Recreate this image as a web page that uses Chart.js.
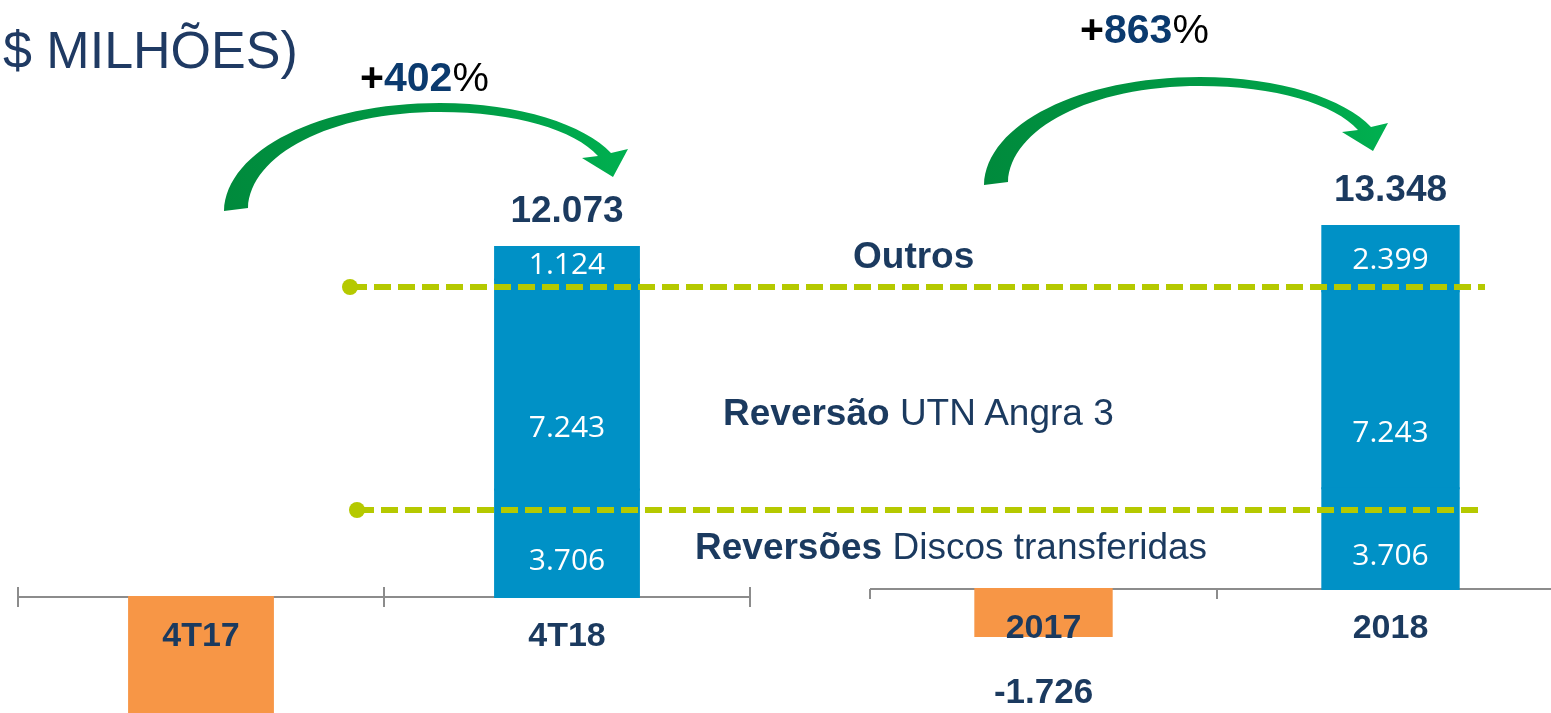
<!DOCTYPE html>
<html>
<head>
<meta charset="utf-8">
<script src="https://cdn.jsdelivr.net/npm/chart.js@4.4.1/dist/chart.umd.min.js"></script>
<style>
  body { margin: 0; background: #fff; }
  #slide { position: relative; width: 1551px; height: 713px; overflow: hidden; font-family: 'Liberation Sans', Arial, sans-serif; }
  #slide canvas { position: absolute; top: 0; }
  .txt { position: absolute; white-space: nowrap; line-height: 1; color: #1B3A5F; }
  .txt b { font-weight: bold; }
</style>
</head>
<body>
<div id="slide">
  <canvas id="leftChart" width="800" height="713" style="left:0;width:800px;height:713px"></canvas>
  <canvas id="rightChart" width="780" height="713" style="left:800px;width:780px;height:713px"></canvas>

  <div class="txt" style="left:3px;top:24px;font-size:52px;color:#1F3A63">$ MILHÕES)</div>

  <div class="txt" style="left:853px;top:237px;font-size:37px"><b>Outros</b></div>
  <div class="txt" style="left:723px;top:394px;font-size:37px"><b>Reversão</b> UTN Angra 3</div>
  <div class="txt" style="left:695px;top:528px;font-size:37px"><b>Reversões</b> Discos transferidas</div>
</div>

<script>
// trimestre: 4T17 x 4T18 (valor de 4T17 estimado, fica fora da imagem)
const leftCategories = ['4T17', '4T18'];
const leftResultado = [-3998, null];
const leftDiscos = [null, 3706];
const leftAngra = [null, 7243];
const leftOutros = [null, 1124];

// ano: 2017 x 2018
const rightCategories = ['2017', '2018'];
const rightResultado = [-1726, null];
const rightDiscos = [null, 3706];
const rightAngra = [null, 7243];
const rightOutros = [null, 2399];

const growthLabels = ['402', '863'];

const colors = {
  BLUE: '#0091C6',
  ORANGE: '#F79646',
  NAVY: '#1B3A5F',
  DEEP: '#0B3A6E',
  AXIS: '#8C8C8C',
  LIME: '#B5C900'
};

// separadores tracejados (coordenadas da página)
const guides = [
  { y: 287, x0: 350, x1: 1485 },
  { y: 510, x0: 357, x1: 1483 }
];

// deslocamento vertical dos rótulos internos, por dataset
const labelShift = [0, 18, 44, 2];

function fmt(v) {
  const s = String(Math.abs(Math.round(v))).replace(/\B(?=(\d{3})+(?!\d))/g, '.');
  return (v < 0 ? '-' : '') + s;
}

function drawArrow(ctx, tx, ty) {
  const p = (x, y) => [tx + x, ty + y];
  ctx.save();
  const g = ctx.createLinearGradient(tx - 12, ty, tx + 391, ty - 59);
  g.addColorStop(0, '#008A3C');
  g.addColorStop(0.6, '#009A45');
  g.addColorStop(1, '#00B050');
  ctx.fillStyle = g;
  ctx.beginPath();
  ctx.moveTo(...p(-12, 2));
  ctx.bezierCurveTo(...p(-10, -59), ...p(84, -106), ...p(204, -106));
  ctx.bezierCurveTo(...p(284, -106), ...p(349, -84), ...p(375, -56));
  ctx.lineTo(...p(392, -60));
  ctx.lineTo(...p(377, -32));
  ctx.lineTo(...p(346, -51));
  ctx.lineTo(...p(362, -53));
  ctx.bezierCurveTo(...p(339, -79), ...p(279, -97), ...p(204, -97));
  ctx.bezierCurveTo(...p(94, -97), ...p(14, -54), ...p(12, -1));
  ctx.closePath();
  ctx.fill();
  ctx.restore();
}

function makeSlidePlugin(s) {
  return {
    id: 'slide',
    beforeDatasetsDraw(chart) {
      const { ctx, chartArea } = chart;
      const xs = chart.scales.x;
      const y0 = chart.scales.y.getPixelForValue(0);
      const half = (xs.getPixelForValue(1) - xs.getPixelForValue(0)) / 2;
      ctx.save();
      ctx.strokeStyle = colors.AXIS;
      ctx.lineWidth = 2;
      ctx.beginPath();
      ctx.moveTo(chartArea.left, y0);
      ctx.lineTo(chartArea.right, y0);
      for (let i = 0; i <= chart.data.labels.length; i++) {
        const tx = xs.getPixelForValue(0) - half + i * 2 * half;
        ctx.moveTo(tx, y0 - s.tickUp);
        ctx.lineTo(tx, y0 + 10);
      }
      ctx.stroke();
      ctx.restore();
    },
    afterDatasetsDraw(chart) {
      const { ctx } = chart;
      const xs = chart.scales.x, ys = chart.scales.y;
      const y0 = ys.getPixelForValue(0);
      const sets = chart.data.datasets;
      ctx.save();

      // linhas tracejadas
      guides.forEach(g => {
        const from = Math.max(g.x0 - s.offsetX, 0);
        const to = Math.min(g.x1 - s.offsetX, chart.width);
        if (to <= from) return;
        ctx.setLineDash([17, 7]);
        ctx.lineDashOffset = from + s.offsetX - g.x0;
        ctx.strokeStyle = colors.LIME;
        ctx.lineWidth = 6;
        ctx.beginPath();
        ctx.moveTo(from, g.y);
        ctx.lineTo(to, g.y);
        ctx.stroke();
        ctx.setLineDash([]);
        const dx = g.x0 - s.offsetX;
        if (dx >= 0 && dx <= chart.width) {
          ctx.fillStyle = colors.LIME;
          ctx.beginPath();
          ctx.arc(dx, g.y, 8, 0, Math.PI * 2);
          ctx.fill();
        }
      });

      ctx.textAlign = 'center';
      ctx.textBaseline = 'middle';

      // rótulos dentro das barras
      for (let d = 1; d < sets.length; d++) {
        chart.getDatasetMeta(d).data.forEach((bar, j) => {
          const v = sets[d].data[j];
          if (v == null) return;
          ctx.fillStyle = '#fff';
          ctx.font = '30px "Open Sans"';
          ctx.fillText(fmt(v), bar.x, (bar.y + bar.base) / 2 + labelShift[d]);
        });
      }

      chart.data.labels.forEach((lab, j) => {
        const cx = xs.getPixelForValue(j);
        let total = 0;
        for (let d = 1; d < sets.length; d++) total += sets[d].data[j] || 0;
        ctx.fillStyle = colors.NAVY;
        if (total > 0) {
          ctx.font = 'bold 37px "Liberation Sans"';
          ctx.fillText(fmt(total), cx, ys.getPixelForValue(total) - 35);
        }
        const neg = sets[0].data[j];
        if (neg != null && neg < 0) {
          ctx.font = 'bold 35px "Liberation Sans"';
          ctx.fillText(fmt(neg), cx, ys.getPixelForValue(neg) + 57);
        }
        ctx.font = 'bold 34px "Liberation Sans"';
        ctx.fillText(lab, cx, y0 + 40);
      });

      drawArrow(ctx, s.arrow[0] - s.offsetX, s.arrow[1]);
      ctx.restore();
    }
  };
}

function makeSlideChart(canvasId, categories, series, s) {
  const ctx = document.getElementById(canvasId);
  return new Chart(ctx, {
    type: 'bar',
    data: {
      labels: categories,
      datasets: [
        { label: 'Resultado', data: series[0], backgroundColor: colors.ORANGE },
        { label: 'Reversões Discos transferidas', data: series[1], backgroundColor: colors.BLUE },
        { label: 'Reversão UTN Angra 3', data: series[2], backgroundColor: colors.BLUE },
        { label: 'Outros', data: series[3], backgroundColor: colors.BLUE }
      ]
    },
    options: {
      responsive: false,
      animation: false,
      devicePixelRatio: 1,
      layout: { padding: s.padding },
      datasets: { bar: { categoryPercentage: 1, barPercentage: 0.393, borderWidth: 0, inflateAmount: 1 } },
      scales: {
        x: { display: false, stacked: true },
        y: { display: false, stacked: true, min: s.min, max: s.max }
      },
      plugins: { legend: { display: false }, tooltip: { enabled: false } }
    },
    plugins: [makeSlidePlugin(s)]
  });
}

makeSlideChart('leftChart', leftCategories, [leftResultado, leftDiscos, leftAngra, leftOutros], {
  offsetX: 0,
  padding: { left: 18, right: 50, top: 0, bottom: 0 },
  min: -4000, max: 20590,
  tickUp: 10,
  arrow: [236, 209]
});

makeSlideChart('rightChart', rightCategories, [rightResultado, rightDiscos, rightAngra, rightOutros], {
  offsetX: 800,
  padding: { left: 70, right: 16, top: 0, bottom: 0 },
  min: -4560, max: 21658,
  tickUp: 0,
  arrow: [996, 183]
});

// +402% / +863%
const growthPos = [[360, 57], [1080, 9]];
growthLabels.forEach((g, i) => {
  const el = document.createElement('div');
  el.className = 'txt';
  el.style.left = growthPos[i][0] + 'px';
  el.style.top = growthPos[i][1] + 'px';
  el.style.fontSize = '41px';
  el.style.color = '#000';
  el.innerHTML = '<b>+</b><b style="color:' + colors.DEEP + '">' + g + '</b>%';
  document.getElementById('slide').appendChild(el);
});
</script>
</body>
</html>
